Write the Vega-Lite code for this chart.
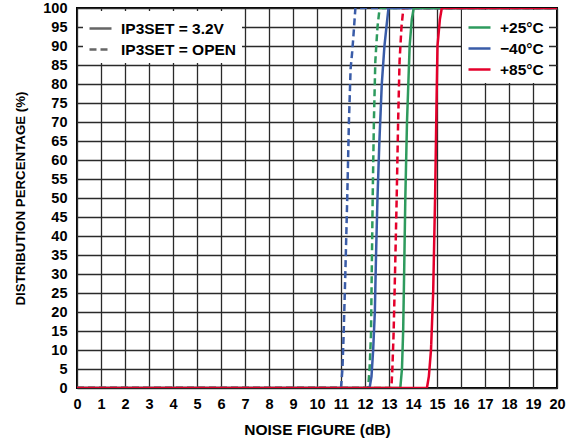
{
  "$schema": "https://vega.github.io/schema/vega-lite/v6.json",
  "width": 480,
  "height": 380,
  "autosize": "none",
  "padding": {"left": 77, "top": 8, "right": 18, "bottom": 60},
  "background": "white",
  "config": {
    "font": "Liberation Sans",
    "view": {"stroke": "black", "strokeWidth": 2},
    "axis": {
      "labelFont": "Liberation Sans", "labelFontWeight": "bold", "labelFontSize": 14.5, "labelColor": "black",
      "titleFont": "Liberation Sans", "titleFontWeight": "bold", "titleColor": "black",
      "grid": true, "gridColor": "#2a2a2a", "gridWidth": 1.3, "gridOpacity": 1,
      "domain": false, "ticks": false
    },
    "legend": {
      "fillColor": "white", "padding": 5,
      "labelFont": "Liberation Sans", "labelFontWeight": "bold", "labelFontSize": 15.5, "labelColor": "black",
      "symbolType": "stroke", "symbolSize": 484, "symbolStrokeWidth": 2.5, "labelOffset": 8
    }
  },
  "data": {"values": [
    {"nf": 0, "pct": 0, "temp": "−40°C", "set": "IP3SET = OPEN"},
    {"nf": 11.0, "pct": 0, "temp": "−40°C", "set": "IP3SET = OPEN"},
    {"nf": 11.06, "pct": 5, "temp": "−40°C", "set": "IP3SET = OPEN"},
    {"nf": 11.11, "pct": 14, "temp": "−40°C", "set": "IP3SET = OPEN"},
    {"nf": 11.18, "pct": 30, "temp": "−40°C", "set": "IP3SET = OPEN"},
    {"nf": 11.26, "pct": 50, "temp": "−40°C", "set": "IP3SET = OPEN"},
    {"nf": 11.33, "pct": 70, "temp": "−40°C", "set": "IP3SET = OPEN"},
    {"nf": 11.4, "pct": 84, "temp": "−40°C", "set": "IP3SET = OPEN"},
    {"nf": 11.46, "pct": 88, "temp": "−40°C", "set": "IP3SET = OPEN"},
    {"nf": 11.51, "pct": 92, "temp": "−40°C", "set": "IP3SET = OPEN"},
    {"nf": 11.6, "pct": 100, "temp": "−40°C", "set": "IP3SET = OPEN"},
    {"nf": 20, "pct": 100, "temp": "−40°C", "set": "IP3SET = OPEN"},

    {"nf": 0, "pct": 0, "temp": "+25°C", "set": "IP3SET = OPEN"},
    {"nf": 12.13, "pct": 0, "temp": "+25°C", "set": "IP3SET = OPEN"},
    {"nf": 12.19, "pct": 5, "temp": "+25°C", "set": "IP3SET = OPEN"},
    {"nf": 12.25, "pct": 14, "temp": "+25°C", "set": "IP3SET = OPEN"},
    {"nf": 12.28, "pct": 30, "temp": "+25°C", "set": "IP3SET = OPEN"},
    {"nf": 12.32, "pct": 50, "temp": "+25°C", "set": "IP3SET = OPEN"},
    {"nf": 12.37, "pct": 70, "temp": "+25°C", "set": "IP3SET = OPEN"},
    {"nf": 12.43, "pct": 86, "temp": "+25°C", "set": "IP3SET = OPEN"},
    {"nf": 12.52, "pct": 95, "temp": "+25°C", "set": "IP3SET = OPEN"},
    {"nf": 12.61, "pct": 100, "temp": "+25°C", "set": "IP3SET = OPEN"},
    {"nf": 20, "pct": 100, "temp": "+25°C", "set": "IP3SET = OPEN"},

    {"nf": 0, "pct": 0, "temp": "+85°C", "set": "IP3SET = OPEN"},
    {"nf": 13.1, "pct": 0, "temp": "+85°C", "set": "IP3SET = OPEN"},
    {"nf": 13.14, "pct": 5, "temp": "+85°C", "set": "IP3SET = OPEN"},
    {"nf": 13.19, "pct": 14, "temp": "+85°C", "set": "IP3SET = OPEN"},
    {"nf": 13.25, "pct": 30, "temp": "+85°C", "set": "IP3SET = OPEN"},
    {"nf": 13.32, "pct": 50, "temp": "+85°C", "set": "IP3SET = OPEN"},
    {"nf": 13.38, "pct": 70, "temp": "+85°C", "set": "IP3SET = OPEN"},
    {"nf": 13.44, "pct": 86, "temp": "+85°C", "set": "IP3SET = OPEN"},
    {"nf": 13.52, "pct": 95, "temp": "+85°C", "set": "IP3SET = OPEN"},
    {"nf": 13.6, "pct": 100, "temp": "+85°C", "set": "IP3SET = OPEN"},
    {"nf": 20, "pct": 100, "temp": "+85°C", "set": "IP3SET = OPEN"},

    {"nf": 0, "pct": 0, "temp": "−40°C", "set": "IP3SET = 3.2V"},
    {"nf": 12.19, "pct": 0, "temp": "−40°C", "set": "IP3SET = 3.2V"},
    {"nf": 12.27, "pct": 3, "temp": "−40°C", "set": "IP3SET = 3.2V"},
    {"nf": 12.34, "pct": 10, "temp": "−40°C", "set": "IP3SET = 3.2V"},
    {"nf": 12.41, "pct": 20, "temp": "−40°C", "set": "IP3SET = 3.2V"},
    {"nf": 12.46, "pct": 35, "temp": "−40°C", "set": "IP3SET = 3.2V"},
    {"nf": 12.52, "pct": 50, "temp": "−40°C", "set": "IP3SET = 3.2V"},
    {"nf": 12.6, "pct": 65, "temp": "−40°C", "set": "IP3SET = 3.2V"},
    {"nf": 12.7, "pct": 80, "temp": "−40°C", "set": "IP3SET = 3.2V"},
    {"nf": 12.81, "pct": 90, "temp": "−40°C", "set": "IP3SET = 3.2V"},
    {"nf": 12.91, "pct": 96, "temp": "−40°C", "set": "IP3SET = 3.2V"},
    {"nf": 12.98, "pct": 100, "temp": "−40°C", "set": "IP3SET = 3.2V"},
    {"nf": 20, "pct": 100, "temp": "−40°C", "set": "IP3SET = 3.2V"},

    {"nf": 0, "pct": 0, "temp": "+25°C", "set": "IP3SET = 3.2V"},
    {"nf": 13.47, "pct": 0, "temp": "+25°C", "set": "IP3SET = 3.2V"},
    {"nf": 13.54, "pct": 5, "temp": "+25°C", "set": "IP3SET = 3.2V"},
    {"nf": 13.59, "pct": 15, "temp": "+25°C", "set": "IP3SET = 3.2V"},
    {"nf": 13.63, "pct": 30, "temp": "+25°C", "set": "IP3SET = 3.2V"},
    {"nf": 13.68, "pct": 50, "temp": "+25°C", "set": "IP3SET = 3.2V"},
    {"nf": 13.75, "pct": 70, "temp": "+25°C", "set": "IP3SET = 3.2V"},
    {"nf": 13.86, "pct": 90, "temp": "+25°C", "set": "IP3SET = 3.2V"},
    {"nf": 13.95, "pct": 97, "temp": "+25°C", "set": "IP3SET = 3.2V"},
    {"nf": 14.03, "pct": 100, "temp": "+25°C", "set": "IP3SET = 3.2V"},
    {"nf": 20, "pct": 100, "temp": "+25°C", "set": "IP3SET = 3.2V"},

    {"nf": 0, "pct": 0, "temp": "+85°C", "set": "IP3SET = 3.2V"},
    {"nf": 14.58, "pct": 0, "temp": "+85°C", "set": "IP3SET = 3.2V"},
    {"nf": 14.66, "pct": 3, "temp": "+85°C", "set": "IP3SET = 3.2V"},
    {"nf": 14.75, "pct": 10, "temp": "+85°C", "set": "IP3SET = 3.2V"},
    {"nf": 14.84, "pct": 25, "temp": "+85°C", "set": "IP3SET = 3.2V"},
    {"nf": 14.92, "pct": 50, "temp": "+85°C", "set": "IP3SET = 3.2V"},
    {"nf": 14.98, "pct": 75, "temp": "+85°C", "set": "IP3SET = 3.2V"},
    {"nf": 15.02, "pct": 90, "temp": "+85°C", "set": "IP3SET = 3.2V"},
    {"nf": 15.12, "pct": 97, "temp": "+85°C", "set": "IP3SET = 3.2V"},
    {"nf": 15.2, "pct": 100, "temp": "+85°C", "set": "IP3SET = 3.2V"},
    {"nf": 20, "pct": 100, "temp": "+85°C", "set": "IP3SET = 3.2V"}
  ]},
  "mark": {"type": "line", "strokeWidth": 2.5, "clip": true},
  "encoding": {
    "x": {
      "field": "nf", "type": "quantitative",
      "scale": {"domain": [0, 20], "nice": false, "zero": false},
      "axis": {"values": [0,1,2,3,4,5,6,7,8,9,10,11,12,13,14,15,16,17,18,19,20], "title": "NOISE FIGURE (dB)", "titleFontSize": 15.5, "labelPadding": 9, "titlePadding": 12, "labelFlush": false}
    },
    "y": {
      "field": "pct", "type": "quantitative",
      "scale": {"domain": [0, 100], "nice": false},
      "axis": {"values": [0,5,10,15,20,25,30,35,40,45,50,55,60,65,70,75,80,85,90,95,100], "title": "DISTRIBUTION PERCENTAGE (%)", "titleFontSize": 13.3, "labelPadding": 10, "titlePadding": 15, "labelFlush": false}
    },
    "color": {
      "field": "temp", "type": "nominal",
      "scale": {"domain": ["+25°C", "−40°C", "+85°C"], "range": ["#2e9b5e", "#3a5ca8", "#e4002b"]},
      "legend": {"orient": "none", "legendX": 385, "legendY": 2, "title": null, "rowPadding": -8}
    },
    "strokeDash": {
      "field": "set", "type": "nominal",
      "scale": {"domain": ["IP3SET = 3.2V", "IP3SET = OPEN"], "range": [[1, 0], [7, 4]]},
      "legend": {"orient": "none", "legendX": 6, "legendY": 3, "title": null, "symbolStrokeColor": "#666666", "rowPadding": -10}
    },
    "order": {"field": "nf", "type": "quantitative"}
  }
}
